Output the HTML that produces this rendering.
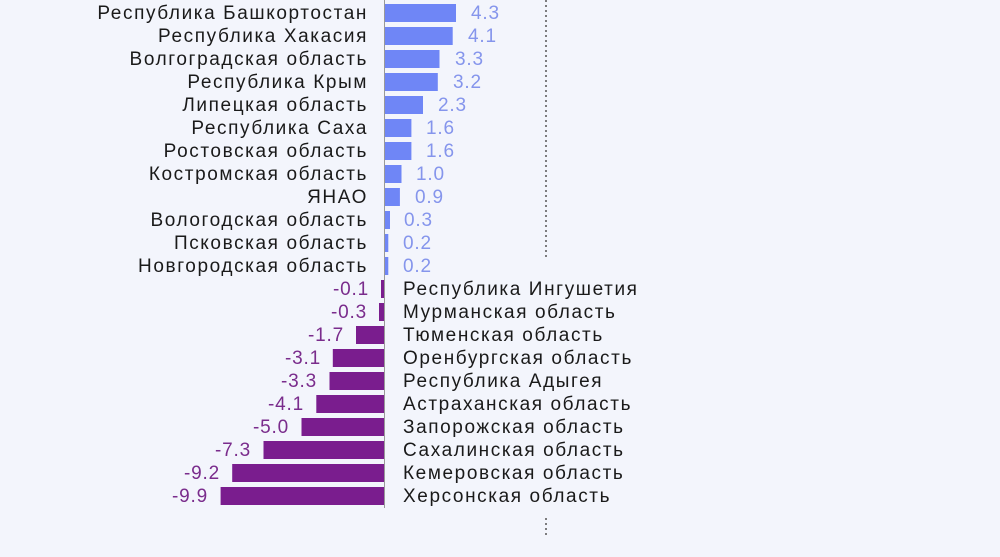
<!DOCTYPE html><html><head><meta charset="utf-8"><style>
body{margin:0;width:1000px;height:552px;background:#f3f5fc;overflow:hidden}
</style></head><body>
<svg width="1000" height="552" xmlns="http://www.w3.org/2000/svg" font-family="Liberation Sans, sans-serif" font-size="19">
<line x1="546" y1="0" x2="546" y2="258" stroke="#555" stroke-width="1.5" stroke-dasharray="2,3"/>
<line x1="546" y1="518" x2="546" y2="538" stroke="#555" stroke-width="1.5" stroke-dasharray="2,3"/>
<line x1="384.5" y1="0" x2="384.5" y2="508" stroke="#999" stroke-width="1"/>
<g fill="#6f86f6">
<rect x="385" y="-19" width="85.8" height="18"/>
<rect x="385" y="4" width="71" height="18"/>
<rect x="385" y="27" width="67.7" height="18"/>
<rect x="385" y="50" width="54.5" height="18"/>
<rect x="385" y="73" width="52.8" height="18"/>
<rect x="385" y="96" width="38" height="18"/>
<rect x="385" y="119" width="26.4" height="18"/>
<rect x="385" y="142" width="26.4" height="18"/>
<rect x="385" y="165" width="16.5" height="18"/>
<rect x="385" y="188" width="14.9" height="18"/>
<rect x="385" y="211" width="5" height="18"/>
<rect x="385" y="234" width="3.3" height="18"/>
<rect x="385" y="257" width="3.3" height="18"/>
</g>
<g fill="#1a1a1a" text-anchor="end" letter-spacing="1.6">
<text x="368" y="19">Республика Башкортостан</text>
<text x="368" y="42">Республика Хакасия</text>
<text x="368" y="65">Волгоградская область</text>
<text x="368" y="88">Республика Крым</text>
<text x="368" y="111">Липецкая область</text>
<text x="368" y="134">Республика Саха</text>
<text x="368" y="157">Ростовская область</text>
<text x="368" y="180">Костромская область</text>
<text x="368" y="203">ЯНАО</text>
<text x="368" y="226">Вологодская область</text>
<text x="368" y="249">Псковская область</text>
<text x="368" y="272">Новгородская область</text>
</g>
<g fill="#8595ec" letter-spacing="0.8">
<text x="471" y="19">4.3</text>
<text x="468" y="42">4.1</text>
<text x="455" y="65">3.3</text>
<text x="453" y="88">3.2</text>
<text x="438" y="111">2.3</text>
<text x="426" y="134">1.6</text>
<text x="426" y="157">1.6</text>
<text x="416" y="180">1.0</text>
<text x="415" y="203">0.9</text>
<text x="404" y="226">0.3</text>
<text x="403" y="249">0.2</text>
<text x="403" y="272">0.2</text>
</g>
<g fill="#7a1d8e">
<rect x="381" y="280" width="3" height="18"/>
<rect x="379" y="303" width="5" height="18"/>
<rect x="356" y="326" width="28" height="18"/>
<rect x="332.8" y="349" width="51.2" height="18"/>
<rect x="329.5" y="372" width="54.5" height="18"/>
<rect x="316.3" y="395" width="67.7" height="18"/>
<rect x="301.5" y="418" width="82.5" height="18"/>
<rect x="263.5" y="441" width="120.5" height="18"/>
<rect x="232.2" y="464" width="151.8" height="18"/>
<rect x="220.6" y="487" width="163.4" height="18"/>
</g>
<g fill="#1a1a1a" letter-spacing="1.6">
<text x="403" y="295">Республика Ингушетия</text>
<text x="403" y="318">Мурманская область</text>
<text x="403" y="341">Тюменская область</text>
<text x="403" y="364">Оренбургская область</text>
<text x="403" y="387">Республика Адыгея</text>
<text x="403" y="410">Астраханская область</text>
<text x="403" y="433">Запорожская область</text>
<text x="403" y="456">Сахалинская область</text>
<text x="403" y="479">Кемеровская область</text>
<text x="403" y="502">Херсонская область</text>
</g>
<g fill="#7a2c8c" text-anchor="end" letter-spacing="0.8">
<text x="369" y="295">-0.1</text>
<text x="367" y="318">-0.3</text>
<text x="344" y="341">-1.7</text>
<text x="321" y="364">-3.1</text>
<text x="317" y="387">-3.3</text>
<text x="304" y="410">-4.1</text>
<text x="289" y="433">-5.0</text>
<text x="251" y="456">-7.3</text>
<text x="220" y="479">-9.2</text>
<text x="208" y="502">-9.9</text>
</g>
</svg></body></html>
